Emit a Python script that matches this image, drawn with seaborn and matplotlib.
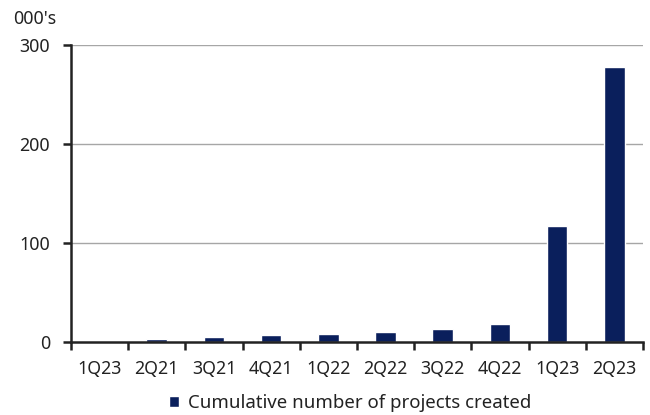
import matplotlib
matplotlib.use("Agg")
import matplotlib.pyplot as plt
from matplotlib.ticker import FixedLocator
import seaborn as sns
import pandas as pd

quarters = ["1Q23", "2Q21", "3Q21", "4Q21", "1Q22", "2Q22", "3Q22", "4Q22", "1Q23", "2Q23"]
projects_k = [0.5, 3, 5, 7, 8, 10, 13, 18, 117, 278]
y_ticks = [0, 100, 200, 300]
series_name = "Cumulative number of projects created"
unit_label = "000's"

navy = "#0A1F5C"
ink = "#222222"

sns.set_theme(style="white")
plt.rcParams["font.family"] = ["Noto Sans", "DejaVu Sans"]

df = pd.DataFrame({"pos": range(len(quarters)), "value": projects_k})

fig = plt.figure(figsize=(6.5, 4.15), dpi=100)
ax = fig.add_axes([0.1092, 0.1759, 0.8800, 0.7157])

sns.barplot(data=df, x="pos", y="value", color=navy, width=0.36,
            saturation=1, ax=ax, native_scale=True, label=series_name)

ax.set_xlim(-0.5, len(quarters) - 0.5)
ax.set_ylim(0, 300)
ax.set_yticks(y_ticks)
ax.set_yticklabels([str(v) for v in y_ticks])
for v in y_ticks[1:]:
    ax.axhline(v, color="#A6A6A6", lw=1.0, zorder=0)

ax.set_xticks(range(len(quarters)))
ax.set_xticklabels(quarters)
ax.xaxis.set_minor_locator(FixedLocator([i - 0.5 for i in range(len(quarters) + 1)]))
ax.tick_params(axis="x", which="major", length=0, pad=13, labelsize=12.8, colors=ink)
ax.tick_params(axis="x", which="minor", length=6, width=1.8, color=ink, direction="out", bottom=True)
ax.tick_params(axis="y", which="major", length=6, width=1.8, color=ink, direction="out",
               left=True, labelsize=12.8, labelcolor=ink, pad=9)
ax.set_xlabel("")
ax.set_ylabel("")

for side in ["top", "right"]:
    ax.spines[side].set_visible(False)
for side in ["left", "bottom"]:
    ax.spines[side].set_color(ink)
    ax.spines[side].set_linewidth(1.8)

fig.text(0.02, 0.955, unit_label, fontsize=12.8, color=ink, ha="left", va="center")

leg = ax.legend(loc="center", bbox_to_anchor=(0.5 - 0.012, -0.205), frameon=False,
                handlelength=0.55, handleheight=0.55, handletextpad=0.45, fontsize=13.4)
for t in leg.get_texts():
    t.set_color(ink)

fig.savefig("out.png", dpi=100)
